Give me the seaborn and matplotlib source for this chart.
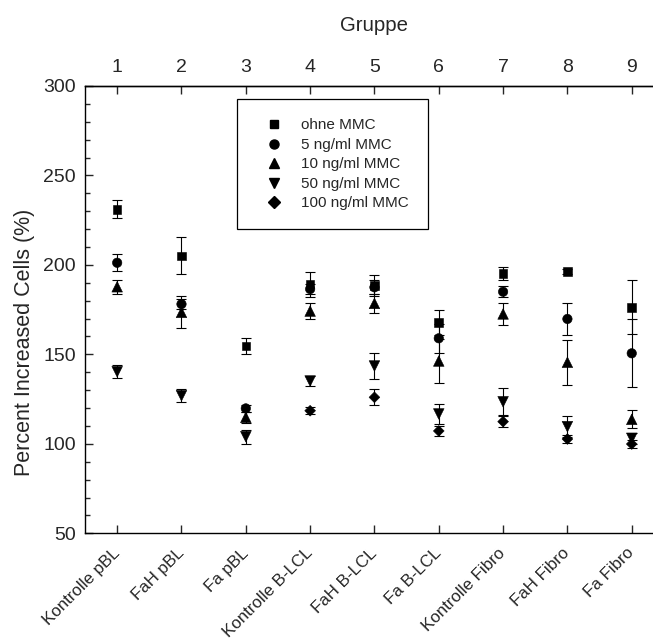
import numpy as np
import pandas as pd
import matplotlib
matplotlib.use("Agg")
import matplotlib.pyplot as plt
import seaborn as sns
from matplotlib.lines import Line2D
from matplotlib.ticker import MultipleLocator
import matplotlib.transforms as mtransforms

# ---- data ----
groups = [1, 2, 3, 4, 5, 6, 7, 8, 9]
categories = ["Kontrolle pBL", "FaH pBL", "Fa pBL", "Kontrolle B-LCL", "FaH B-LCL",
              "Fa B-LCL", "Kontrolle Fibro", "FaH Fibro", "Fa Fibro"]
series = ["ohne MMC", "5 ng/ml MMC", "10 ng/ml MMC", "50 ng/ml MMC", "100 ng/ml MMC"]

ohne = [231.1, 205.1, 154.8, 189.3, 188.4, 167.7, 195.3, 196.2, 176.3]
ohne_err = [5.0, 10.3, 4.5, 7.0, 6.0, 7.0, 3.5, 1.5, 15.0]
ng5 = [201.2, 178.1, 119.8, 186.5, 187.5, 159.0, 185.0, 169.8, 150.6]
ng5_err = [4.7, 3.0, 2.0, 3.0, 4.0, 8.0, 3.0, 9.0, 19.0]
ng10 = [187.8, 173.5, 114.8, 174.2, 178.5, 146.3, 172.6, 145.6, 113.7]
ng10_err = [4.0, 9.0, 3.0, 4.5, 5.5, 12.5, 6.0, 12.7, 5.0]
ng50 = [140.3, 126.9, 104.0, 135.1, 143.5, 116.7, 123.5, 109.6, 103.1]
ng50_err = [3.5, 3.5, 4.0, 3.0, 7.0, 5.5, 7.5, 6.0, 3.0]
ng100 = [np.nan, np.nan, np.nan, 118.5, 126.0, 107.2, 112.4, 102.7, 99.9]
ng100_err = [np.nan, np.nan, np.nan, 2.0, 4.5, 3.0, 3.0, 2.0, 2.0]

values = [ohne, ng5, ng10, ng50, ng100]
errors = [ohne_err, ng5_err, ng10_err, ng50_err, ng100_err]

# ---- styling ----
marker_map = {"ohne MMC": "s", "5 ng/ml MMC": "o", "10 ng/ml MMC": "^",
              "50 ng/ml MMC": "v", "100 ng/ml MMC": "D"}
size_map = {"ohne MMC": 38, "5 ng/ml MMC": 46, "10 ng/ml MMC": 58,
            "50 ng/ml MMC": 58, "100 ng/ml MMC": 30}

rows = []
for s, vals, errs in zip(series, values, errors):
    for g, v, e in zip(groups, vals, errs):
        rows.append({"group": g, "value": v, "err": e, "series": s})
df = pd.DataFrame(rows).dropna()

sns.set_style("ticks")
plt.rcParams["font.family"] = ["Liberation Sans", "DejaVu Sans"]

W, H = 653, 641
fig = plt.figure(figsize=(W / 100, H / 100), dpi=100)
left_px, right_px, top_px, bottom_px = 85, 663.9, 86, 533.3
ax = fig.add_axes([left_px / W, (H - bottom_px) / H, (right_px - left_px) / W,
                   (bottom_px - top_px) / H])

for s in series:
    sub = df[df["series"] == s]
    ax.errorbar(sub["group"], sub["value"], yerr=sub["err"], fmt="none",
                ecolor="black", elinewidth=0.8, capsize=3.3, capthick=0.8, zorder=1)

sns.scatterplot(data=df, x="group", y="value", style="series", markers=marker_map,
                size="series", sizes=size_map, color="black", edgecolor="black",
                linewidth=0.4, legend=False, ax=ax, zorder=3)

ax.set_xlim(0.5, 9.5)
ax.set_ylim(50, 300)
ax.set_xticks(groups)
ax.set_xticklabels(categories, rotation=45, ha="right", va="center",
                   rotation_mode="anchor", fontsize=12.2)
shift = mtransforms.ScaledTranslation(3.0 / 72, 0, fig.dpi_scale_trans)
for lab in ax.get_xticklabels():
    lab.set_transform(lab.get_transform() + shift)
ax.set_yticks([50, 100, 150, 200, 250, 300])
ax.yaxis.set_minor_locator(MultipleLocator(10))
ax.tick_params(axis="y", which="major", direction="in", length=6, width=1,
               labelsize=14, pad=6.5)
ax.tick_params(axis="y", which="minor", direction="in", length=3.5, width=1)
ax.tick_params(axis="x", which="major", direction="in", length=6, width=1, pad=12.5,
               top=False)
ax.set_xlabel("")
ax.set_ylabel("Percent Increased Cells (%)", fontsize=15.5)
ax.yaxis.set_label_coords((35 - left_px) / (right_px - left_px),
                          (bottom_px - 342.5) / (bottom_px - top_px))
for sp in ["left", "bottom", "top"]:
    ax.spines[sp].set_linewidth(1.0)
    ax.spines[sp].set_color("black")
ax.spines["right"].set_visible(False)

sec = ax.secondary_xaxis("top")
sec.set_xticks(groups)
sec.set_xticklabels([str(g) for g in groups])
sec.tick_params(axis="x", direction="in", length=6, width=1, labelsize=14, pad=7)
sec.spines["top"].set_linewidth(1.0)
sec.set_xlabel("Gruppe", fontsize=14.7, labelpad=20)

handles = [Line2D([], [], marker=marker_map[s], linestyle="none", color="black",
                  markersize=6.0 if marker_map[s] in "sD" else 6.5) for s in series]
leg = ax.legend(handles, series, loc="upper left",
                bbox_to_anchor=(236.7 / W, 1 - 99.3 / H), bbox_transform=fig.transFigure,
                frameon=True, fancybox=False, edgecolor="black", framealpha=1,
                fontsize=11, borderpad=1.25, handlelength=2.35, handletextpad=0.6,
                labelspacing=0.36, borderaxespad=0)
leg.get_frame().set_linewidth(0.9)

fig.savefig("out.png", dpi=100)
